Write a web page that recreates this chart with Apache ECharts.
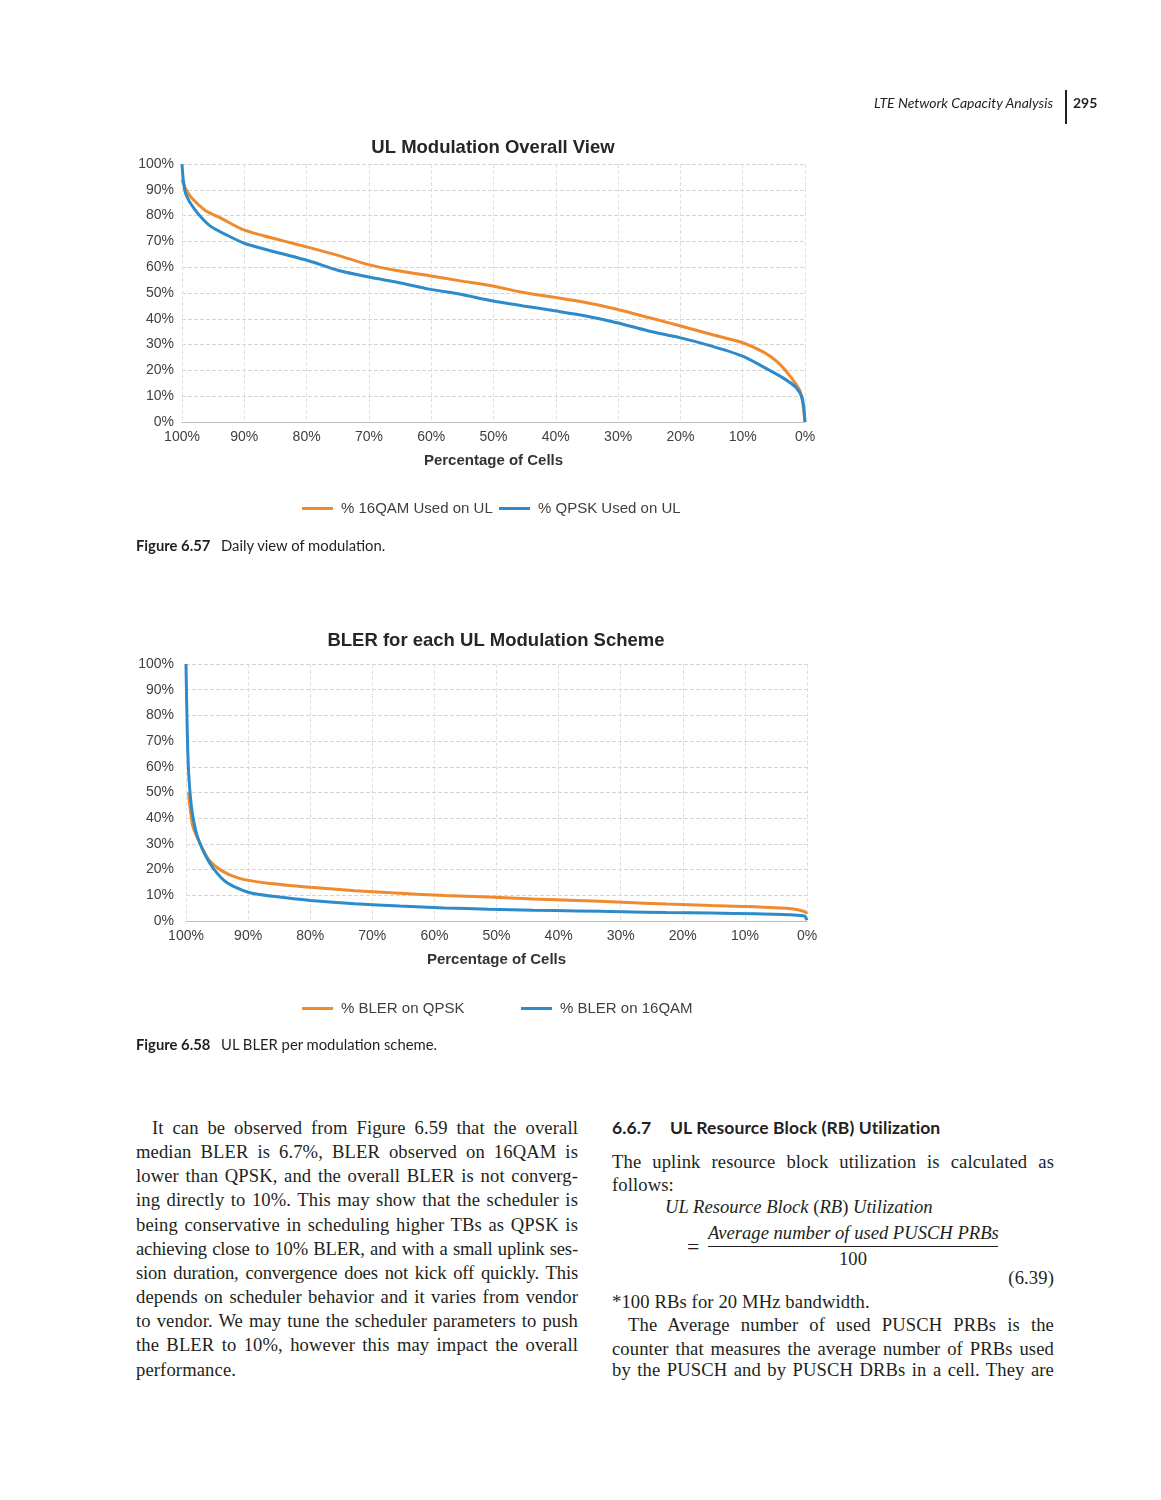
<!DOCTYPE html>
<html><head><meta charset="utf-8">
<script src="https://cdn.jsdelivr.net/npm/echarts@6/dist/echarts.min.js"></script>
<style>
html,body{margin:0;padding:0;background:#fff;}
#page{position:relative;width:1161px;height:1500px;overflow:hidden;background:#fff;}
#chart{position:absolute;left:0;top:0;width:1161px;height:1080px;}
.t{position:absolute;white-space:nowrap;color:#231f20;}
.sans{font-family:'Lato','Noto Sans',sans-serif;}
.serif{font-family:'Liberation Serif','DejaVu Serif',serif;font-size:18.6px;letter-spacing:0.12px;color:#231f20;}
.ln{position:absolute;width:442px;height:24px;line-height:24px;text-align:justify;text-align-last:justify;overflow:visible;}
.ln.last{text-align:left;text-align-last:left;}
.it{font-style:italic;}
.tight{letter-spacing:-0.15px;}
.f{letter-spacing:0;}
</style>
</head><body>
<div id="page">
<div id="chart"></div>

<div class="t sans it" style="right:108px;top:94px;font-size:14px;line-height:18px;">LTE Network Capacity Analysis</div>
<div style="position:absolute;left:1065px;top:90px;width:2px;height:34px;background:#231f20;"></div>
<div class="t sans" style="left:1073px;top:94px;font-size:14px;line-height:18px;font-weight:bold;">295</div>

<div class="t sans" style="left:136px;top:536px;font-size:14.8px;line-height:18px;font-weight:bold;">Figure 6.57</div>
<div class="t sans" style="left:221px;top:536px;font-size:14.8px;line-height:18px;">Daily view of modulation.</div>
<div class="t sans" style="left:136px;top:1035px;font-size:14.8px;line-height:18px;font-weight:bold;">Figure 6.58</div>
<div class="t sans" style="left:221px;top:1035px;font-size:14.8px;line-height:18px;">UL BLER per modulation scheme.</div>

<div class="serif">
<div class="ln" style="left:136px;top:1116px;"><span style="padding-left:16px"></span>It can be observed from Figure 6.59 that the overall</div>
<div class="ln" style="left:136px;top:1140px;">median BLER is 6.7%, BLER observed on 16QAM is</div>
<div class="ln" style="left:136px;top:1164px;">lower than QPSK, and the overall BLER is not converg-</div>
<div class="ln" style="left:136px;top:1188px;">ing directly to 10%. This may show that the scheduler is</div>
<div class="ln" style="left:136px;top:1213px;">being conservative in scheduling higher TBs as QPSK is</div>
<div class="ln tight" style="left:136px;top:1237px;">achieving close to 10% BLER, and with a small uplink ses-</div>
<div class="ln tight" style="left:136px;top:1261px;">sion duration, convergence does not kick off quickly. This</div>
<div class="ln" style="left:136px;top:1285px;">depends on scheduler behavior and it varies from vendor</div>
<div class="ln" style="left:136px;top:1309px;">to vendor. We may tune the scheduler parameters to push</div>
<div class="ln" style="left:136px;top:1333px;">the BLER to 10%, however this may impact the overall</div>
<div class="ln last" style="left:136px;top:1358px;">performance.</div>

<div class="t sans" style="left:612px;top:1117px;font-size:17.5px;line-height:22px;font-weight:bold;">6.6.7</div>
<div class="t sans" style="left:670px;top:1117px;font-size:17.5px;line-height:22px;font-weight:bold;">UL Resource Block (RB) Utilization</div>

<div class="ln" style="left:612px;top:1150px;">The uplink resource block utilization is calculated as</div>
<div class="ln last" style="left:612px;top:1173px;">follows:</div>
<div class="t it f" style="left:665px;top:1195px;line-height:24px;"><span>UL Resource Block </span><span style="font-style:normal">(</span>RB<span style="font-style:normal">)</span> Utilization</div>
<div class="t f" style="left:687px;top:1235px;line-height:24px;font-size:22px;">=</div>
<div class="t it f" style="left:708px;top:1221px;line-height:24px;width:290px;text-align:center;">Average number of used PUSCH PRBs</div>
<div style="position:absolute;left:708px;top:1246px;width:290px;height:1px;background:#231f20;"></div>
<div class="t f" style="left:708px;top:1247px;line-height:24px;width:290px;text-align:center;">100</div>
<div class="t" style="right:107px;top:1266px;line-height:24px;">(6.39)</div>
<div class="ln last" style="left:612px;top:1290px;">*100 RBs for 20 MHz bandwidth.</div>
<div class="ln" style="left:612px;top:1313px;"><span style="padding-left:16px"></span>The Average number of used PUSCH PRBs is the</div>
<div class="ln" style="left:612px;top:1337px;">counter that measures the average number of PRBs used</div>
<div class="ln" style="left:612px;top:1358px;">by the PUSCH and by PUSCH DRBs in a cell. They are</div>
</div>
</div>

<script>
// Figure 6.57 — UL modulation overall view (x: percentage of cells, y: % usage)
const cells16QAM = [100, 99.4, 98.5, 96.2, 94, 90.4, 86.9, 83.3, 79.7, 74.7, 70.4, 65.3, 60.3, 55.3, 50.3, 45.2, 40.2, 35.2, 30.2, 25.1, 20.1, 15.1, 10.1, 6.5, 4.3, 2.2, 0.7, 0];
const used16QAM  = [94, 90.3, 87, 81.9, 79.3, 74.8, 72.2, 69.9, 67.7, 64.4, 61.2, 58.6, 56.7, 54.7, 52.8, 50.2, 48.3, 46.3, 43.7, 40.5, 37.3, 34.0, 30.8, 26.9, 23.0, 17.2, 11.4, 0];
const cellsQPSK  = [100, 99.8, 99.4, 98, 95.5, 92.6, 89.7, 84.7, 79.7, 74.7, 69.6, 65.3, 60.3, 55.3, 50.3, 45.2, 40.2, 35.2, 30.2, 25.1, 20.1, 15.1, 10.1, 6.5, 3.6, 1.4, 0.4, 0];
const usedQPSK   = [100, 94, 88.4, 82.5, 76, 72.2, 69, 65.7, 62.5, 58.6, 56, 54.1, 51.5, 49.5, 47, 45, 43.1, 41.1, 38.5, 35.3, 32.7, 29.5, 25.6, 21.1, 17.2, 13.3, 8.8, 0];

// Figure 6.58 — BLER per UL modulation scheme
const cellsBlerQPSK = [99.6, 98.9, 97.8, 96.4, 94.3, 91.4, 87.1, 79.9, 72.8, 65.6, 58.4, 51.3, 44.1, 37, 29.8, 22.6, 15.4, 8.2, 2.5, 0.4, 0];
const blerQPSK      = [50, 36.9, 30.5, 24.1, 19.6, 16.6, 14.8, 13.1, 11.8, 10.8, 9.9, 9.3, 8.6, 8.0, 7.3, 6.6, 6.0, 5.5, 4.8, 3.7, 2.8];
const cellsBler16QAM = [100, 99.8, 99.6, 99.3, 98.9, 98.2, 97.1, 95.7, 93.5, 90, 85, 79.9, 72.8, 65.6, 58.4, 51.3, 44.1, 37, 29.8, 22.6, 15.4, 8.2, 2.5, 0.4, 0];
const bler16QAM      = [100, 74, 58.8, 48.5, 40.8, 33.1, 26.6, 20.8, 15.1, 11.2, 9.3, 8, 6.7, 5.8, 5.1, 4.6, 4.2, 3.9, 3.6, 3.3, 3.1, 2.8, 2.4, 1.9, 0.3];

const titles = ['UL Modulation Overall View', 'BLER for each UL Modulation Scheme'];
const xAxisName = 'Percentage of Cells';
const names1 = ['% 16QAM Used on UL', '% QPSK Used on UL'];
const names2 = ['% BLER on QPSK', '% BLER on 16QAM'];

const ORANGE = '#EF8A2E', BLUE = '#2E8BCB';
const zip = (xs, ys) => xs.map((x, i) => [x, ys[i]]);
const FONT = "'Liberation Sans', Arial, sans-serif";

function xAxis(g) {
  return {
    gridIndex: g, type: 'value', min: 0, max: 100, interval: 10, inverse: true,
    axisLabel: { formatter: '{value}%', fontSize: 14, color: '#404040', margin: 8 },
    axisLine: { lineStyle: { color: '#bfbfbf', width: 1 } },
    axisTick: { show: false },
    splitLine: { show: true, lineStyle: { color: '#e2e2e2', type: 'dashed' } },
    name: xAxisName, nameLocation: 'middle', nameGap: 31,
    nameTextStyle: { fontSize: 15, fontWeight: 'bold', color: '#333' }
  };
}
function yAxis(g, margin) {
  return {
    gridIndex: g, type: 'value', min: 0, max: 100, interval: 10,
    axisLabel: { formatter: '{value}%', fontSize: 14, color: '#404040', margin: margin },
    axisLine: { show: false }, axisTick: { show: false },
    splitLine: { show: true, lineStyle: { color: '#d6d6d6', type: 'dashed' } }
  };
}
function legend(name, left, top) {
  return {
    data: [name], left: left, top: top, padding: 0, icon: 'rect',
    itemWidth: 31, itemHeight: 3,
    textStyle: { fontSize: 15, color: '#404040', fontFamily: FONT, padding: [0, 0, 0, 3] }
  };
}
function line(name, data, color, g) {
  return {
    name: name, type: 'line', xAxisIndex: g, yAxisIndex: g, data: data,
    showSymbol: false, symbol: 'none', smooth: 0.25,
    lineStyle: { color: color, width: 3 }, itemStyle: { color: color }
  };
}

const chart = echarts.init(document.getElementById('chart'), null, { renderer: 'canvas' });
chart.setOption({
  animation: false,
  backgroundColor: 'transparent',
  textStyle: { fontFamily: FONT },
  title: [
    { text: titles[0], left: 493, top: 138, textAlign: 'center', padding: 0,
      textStyle: { fontSize: 18.5, fontWeight: 'bold', color: '#262626', fontFamily: FONT } },
    { text: titles[1], left: 496, top: 631, textAlign: 'center', padding: 0,
      textStyle: { fontSize: 18.5, fontWeight: 'bold', color: '#262626', fontFamily: FONT } }
  ],
  grid: [
    { left: 182, top: 164, width: 623, height: 258 },
    { left: 186, top: 664, width: 621, height: 257 }
  ],
  xAxis: [xAxis(0), xAxis(1)],
  yAxis: [yAxis(0, 8), yAxis(1, 12)],
  legend: [
    legend(names1[0], 302, 501), legend(names1[1], 499, 501),
    legend(names2[0], 302, 1001), legend(names2[1], 521, 1001)
  ],
  series: [
    line(names1[0], zip(cells16QAM, used16QAM), ORANGE, 0),
    line(names1[1], zip(cellsQPSK, usedQPSK), BLUE, 0),
    line(names2[0], zip(cellsBlerQPSK, blerQPSK), ORANGE, 1),
    line(names2[1], zip(cellsBler16QAM, bler16QAM), BLUE, 1)
  ]
});
</script>
</body></html>
